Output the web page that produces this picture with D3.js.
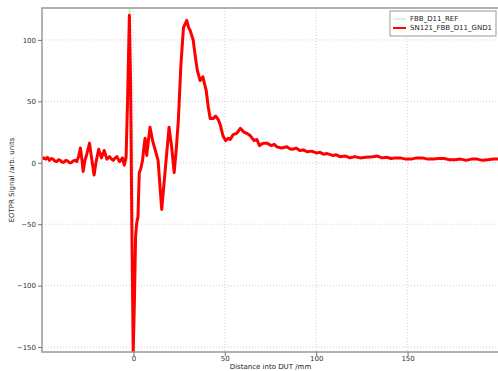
<!DOCTYPE html>
<html>
<head>
<meta charset="utf-8">
<script src="https://cdn.jsdelivr.net/npm/d3@7"></script>
<style>
    body { margin: 0; background: #fff; }
    #chart-area { width: 498px; height: 371px; }
    text { font-family: "DejaVu Sans", sans-serif; }
</style>
</head>
<body>
<div id="chart-area"></div>
<script>
// measured trace (distance /mm, signal /arb. units)
let gndDistance = [-50, -49, -48, -47, -46, -45, -44, -43, -42, -41, -40, -39, -38, -37, -36, -35, -34, -33, -32, -31,
    -30, -29, -28.2, -27.5, -26.5, -25.5, -24, -23, -21.5, -20.5, -19, -17.5, -16, -14.5, -13, -12, -11, -10, -9, -8,
    -7.5, -6, -5, -4, -3.2, -2.2, -1.5, -0.8, -0.1, 0.6, 1.2, 1.8, 2.5, 3.2, 4, 5, 5.7, 6.4, 7.3, 8.2,
    9.1, 10.5, 12, 13.5, 15.5, 17.4, 19.5, 21, 22.3, 23.5, 24.6, 26, 27.4, 29.2, 30.2, 31, 32.7, 34, 35, 36.5,
    38, 39.8, 41, 42, 43.6, 45, 46.5, 47.5, 49, 50.5, 52, 53, 54.6, 56.5, 58.5, 60.5, 62, 64, 66, 67.5,
    69, 71, 73, 75.5, 77, 78.5, 81, 84, 85.5, 87, 89, 91, 93, 95, 97.5, 100, 102, 104, 106, 109,
    111, 113, 116, 118.5, 121, 124, 127, 131, 133.5, 136, 138.5, 141, 143.5, 146, 149, 152, 155, 158, 161, 164,
    167, 170, 173, 176, 179, 182, 185, 188, 191, 194, 197, 200];
let gndSignal = [3, 4, 3, 4.5, 2, 3.5, 3, 1.5, 1, 2.5, 2, 0.5, 0.5, 2, 1.5, 0, 0, 1.5, 2, 1,
    5, 12, 3, -7, 2, 7, 16, 5, -10, 0, 11, 4, 10, 3, 5, 3, 2, 4, 5, 2,
    1, 4, -2, 5, 50, 120, 60, -60, -154, -110, -60, -49, -44, -8, -5, 2, 12, 20, 6, 18,
    29, 18, 10, 2, -38, -6, 29, 12, -8, 12, 35, 80, 110, 116, 110, 108, 100, 85, 75, 67,
    70, 59, 45, 36, 36, 38, 35, 31, 22, 18, 20, 19, 23, 24, 28, 25, 24, 22, 18, 19,
    14, 16, 16, 14, 15, 13, 12, 13, 11.5, 11, 12, 10, 10.5, 9, 9.5, 8, 8.5, 7, 7.5, 6,
    6.5, 5, 5.5, 4, 5, 4, 4.5, 5, 5.5, 4, 4.5, 3.5, 4, 4, 3, 3, 4, 4, 3, 3,
    3.5, 3.5, 2.5, 2.5, 3, 2, 3, 3, 2, 2.5, 3, 3];

// reference trace, only the spike peeks out behind the red one
let refDistance = [-3.6, -2.1, -0.6];
let refSignal = [0, 140, 0];

let xTicks = [0, 50, 100, 150];
let yTicks = [-150, -100, -50, 0, 50, 100];

let seriesNames = ["FBB_D11_REF", "SN121_FBB_D11_GND1"];
let seriesColors = ["#a8f0a8", "#ff0000"];

class EotprVis {

    constructor(parentElement) {
        this.parentElement = parentElement;
        this.series = [
            {name: seriesNames[0], color: seriesColors[0], width: 1,
                values: refDistance.map((d, i) => ({x: d, y: refSignal[i]}))},
            {name: seriesNames[1], color: seriesColors[1], width: 3,
                values: gndDistance.map((d, i) => ({x: d, y: gndSignal[i]}))}
        ];
        this.initVis();
    }

    initVis() {
        let vis = this;

        vis.margin = {top: 8, right: -1, bottom: 19, left: 42};
        vis.width = 498 - vis.margin.left - vis.margin.right;
        vis.height = 371 - vis.margin.top - vis.margin.bottom;

        vis.svg = d3.select("#" + vis.parentElement)
            .append("svg")
            .attr("width", 498)
            .attr("height", 371)
            .append("g")
            .attr("transform", "translate(" + vis.margin.left + "," + vis.margin.top + ")");

        vis.x = d3.scaleLinear().domain([-50, 200]).range([0, vis.width]);
        vis.y = d3.scaleLinear().domain([-154, 126]).range([vis.height, 0]);

        // dotted grid
        vis.svg.append("g").selectAll("line.gy")
            .data(yTicks).enter().append("line")
            .attr("x1", 0).attr("x2", vis.width)
            .attr("y1", d => vis.y(d)).attr("y2", d => vis.y(d))
            .attr("stroke", "#d0d0d0").attr("stroke-dasharray", "1,2");
        vis.svg.append("g").selectAll("line.gx")
            .data(xTicks).enter().append("line")
            .attr("y1", 0).attr("y2", vis.height)
            .attr("x1", d => vis.x(d)).attr("x2", d => vis.x(d))
            .attr("stroke", "#d0d0d0").attr("stroke-dasharray", "1,2");

        vis.svg.append("clipPath").attr("id", "plot-clip")
            .append("rect").attr("width", vis.width).attr("height", vis.height);

        let line = d3.line().x(d => vis.x(d.x)).y(d => vis.y(d.y));
        vis.svg.append("g").attr("clip-path", "url(#plot-clip)")
            .selectAll("path")
            .data(vis.series).enter().append("path")
            .attr("d", d => line(d.values))
            .attr("fill", "none")
            .attr("stroke", d => d.color)
            .attr("stroke-width", d => d.width)
            .attr("stroke-linejoin", "round");

        // frame
        vis.svg.append("rect")
            .attr("width", vis.width).attr("height", vis.height)
            .attr("fill", "none").attr("stroke", "#999").attr("stroke-width", 1.5);

        let xAxis = vis.svg.append("g")
            .attr("transform", "translate(0," + vis.height + ")")
            .call(d3.axisBottom(vis.x).tickValues(xTicks).tickSize(4).tickSizeOuter(0));
        let yAxis = vis.svg.append("g")
            .call(d3.axisLeft(vis.y).tickValues(yTicks).tickSize(4).tickSizeOuter(0));
        [xAxis, yAxis].forEach(a => {
            a.select(".domain").remove();
            a.selectAll("line").attr("stroke", "#777");
            a.selectAll("text").attr("fill", "#333").style("font-size", "7px")
                .style("font-family", "DejaVu Sans, sans-serif");
        });
        xAxis.selectAll("text").attr("dy", "0.6em").attr("y", 5);
        yAxis.selectAll("text").attr("x", -6);

        vis.svg.append("text")
            .attr("x", vis.width / 2).attr("y", vis.height + 17)
            .attr("text-anchor", "middle").style("font-size", "7px").attr("fill", "#222")
            .text("Distance into DUT /mm");
        vis.svg.append("text")
            .attr("transform", "translate(" + (-28) + "," + (vis.height / 2) + ") rotate(-90)")
            .attr("text-anchor", "middle").style("font-size", "7px").attr("fill", "#222")
            .text("EOTPR Signal /arb. units");

        // legend
        let legend = vis.svg.append("g").attr("transform", "translate(348,3)");
        legend.append("rect").attr("width", 106).attr("height", 25)
            .attr("fill", "#fff").attr("stroke", "#999");
        let rows = legend.selectAll("g.row").data(vis.series).enter().append("g")
            .attr("transform", (d, i) => "translate(3," + (8 + i * 9) + ")");
        rows.append("line").attr("x1", 0).attr("x2", 13)
            .attr("stroke", d => d.color).attr("stroke-width", d => d.width === 1 ? 1 : 2);
        rows.append("text").attr("x", 17).attr("dy", "0.35em")
            .style("font-size", "7px").attr("fill", "#222")
            .text(d => d.name);
    }
}

new EotprVis("chart-area");
</script>
</body>
</html>
